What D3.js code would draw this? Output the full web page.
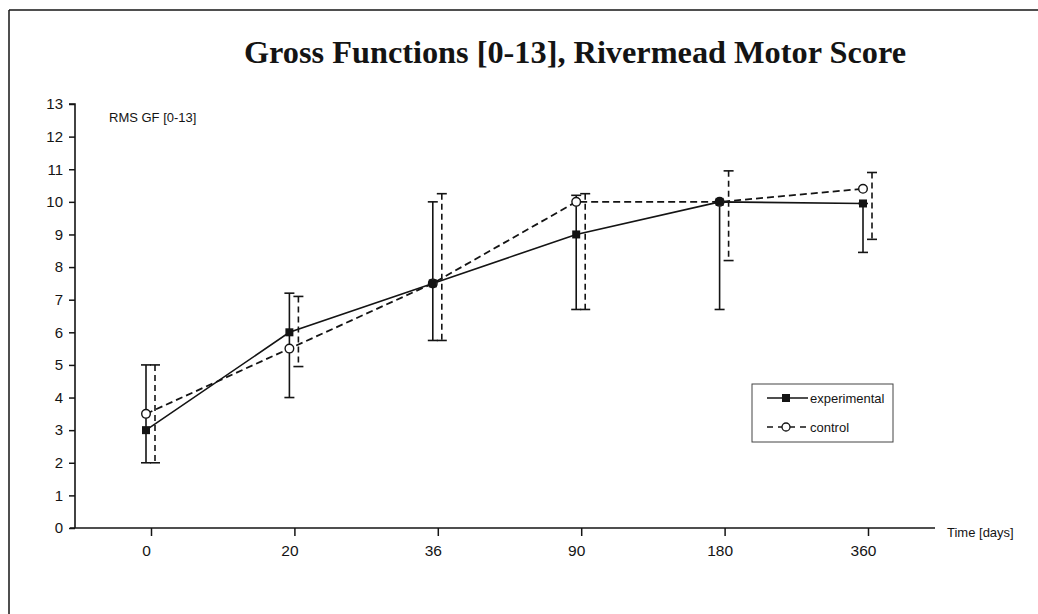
<!DOCTYPE html>
<html>
<head>
<meta charset="utf-8">
<script src="https://cdn.jsdelivr.net/npm/d3@7"></script>
<style>
  body { margin: 0; background: #fff; }
  svg { display: block; }
</style>
</head>
<body>
<div id="chart"></div>
<script>
// values
const days = ["0", "20", "36", "90", "180", "360"];
const expMean = [3, 6, 7.5, 9, 10, 9.95];
const expLow = [2, 4, 5.75, 6.7, 6.7, 8.45];
const expHigh = [5, 7.2, 10, 10.2, 10, 9.95];
const ctlMean = [3.5, 5.5, 7.5, 10, 10, 10.4];
const ctlLow = [2, 4.95, 5.75, 6.7, 8.2, 8.85];
const ctlHigh = [5, 7.1, 10.25, 10.25, 10.95, 10.9];
const yTicks = d3.range(0, 14);

const width = 1038, height = 614;
const ink = "#141414";

const svg = d3.select("#chart").append("svg")
    .attr("width", width)
    .attr("height", height);

// frame (only top + left edge visible in the scan)
svg.append("line").attr("x1", 9).attr("x2", width).attr("y1", 10).attr("y2", 10)
    .attr("stroke", ink).attr("stroke-width", 1.5);
svg.append("line").attr("x1", 9).attr("x2", 9).attr("y1", 10).attr("y2", height)
    .attr("stroke", ink).attr("stroke-width", 1.5);

// title
svg.append("text")
    .attr("x", 575).attr("y", 63)
    .attr("text-anchor", "middle")
    .style("font-family", "'Liberation Serif', 'Times New Roman', serif")
    .style("font-weight", "bold")
    .style("font-size", "32.3px")
    .attr("fill", ink)
    .text("Gross Functions [0-13], Rivermead Motor Score");

// scales
const x = d3.scalePoint().domain(days).range([146, 863]);
const y = d3.scaleLinear().domain([0, 13]).range([528, 104]);
const ctlShift = 9;

const sans = "'Liberation Sans', Arial, sans-serif";

// y axis
const yAxis = svg.append("g")
    .attr("transform", "translate(75,0)")
    .call(d3.axisLeft(y).tickValues(yTicks).tickSize(6).tickPadding(6).tickFormat(d3.format("d")));
yAxis.select(".domain").attr("stroke", ink).attr("stroke-width", 1.6).attr("d", `M-6,${y(13)}H0V${y(0)}`);
yAxis.selectAll(".tick line").attr("stroke", ink).attr("stroke-width", 1.5);
yAxis.selectAll(".tick text")
    .style("font-family", sans).style("font-size", "15px").attr("fill", ink);

// x axis
const xAxis = svg.append("g")
    .attr("transform", `translate(0,${y(0)})`)
    .call(d3.axisBottom(x).tickSize(8).tickPadding(0));
xAxis.select(".domain").attr("stroke", ink).attr("stroke-width", 1.6).attr("d", "M70,0H935");
xAxis.selectAll(".tick line").attr("stroke", ink).attr("stroke-width", 1.5)
    .attr("x1", 5).attr("x2", 5);
xAxis.selectAll(".tick text")
    .attr("y", 28).attr("dy", 0)
    .style("font-family", sans).style("font-size", "15.5px").attr("fill", ink);

svg.append("text")
    .attr("x", 947).attr("y", 537)
    .style("font-family", sans).style("font-size", "13px")
    .attr("fill", ink)
    .text("Time [days]");

svg.append("text")
    .attr("x", 109).attr("y", 122)
    .style("font-family", sans).style("font-size", "13px")
    .attr("fill", ink)
    .text("RMS GF [0-13]");

// series tables
const expData = days.map((d, i) => ({day: d, mean: expMean[i], lo: expLow[i], hi: expHigh[i]}));
const ctlData = days.map((d, i) => ({day: d, mean: ctlMean[i], lo: ctlLow[i], hi: ctlHigh[i]}));

function errorBars(data, shift, dash) {
  const g = svg.append("g").attr("stroke", ink).attr("stroke-width", 1.6).attr("fill", "none");
  g.selectAll("path")
      .data(data)
      .enter()
      .append("path")
      .attr("stroke-dasharray", dash)
      .attr("d", d => `M${x(d.day) + shift},${y(d.hi)}V${y(d.lo)}`);
  // caps
  g.selectAll("line.cap")
      .data(data.flatMap(d => [{day: d.day, v: d.hi}, {day: d.day, v: d.lo}]))
      .enter()
      .append("line")
      .attr("class", "cap")
      .attr("x1", d => x(d.day) + shift - 5)
      .attr("x2", d => x(d.day) + shift + 5)
      .attr("y1", d => y(d.v))
      .attr("y2", d => y(d.v));
}

errorBars(expData, 0, null);
errorBars(ctlData, ctlShift, "6,4");

const line = d3.line().x(d => x(d.day)).y(d => y(d.mean));

svg.append("path")
    .datum(ctlData)
    .attr("d", line)
    .attr("fill", "none")
    .attr("stroke", ink)
    .attr("stroke-width", 1.8)
    .attr("stroke-dasharray", "7,4");

svg.append("path")
    .datum(expData)
    .attr("d", line)
    .attr("fill", "none")
    .attr("stroke", ink)
    .attr("stroke-width", 1.6);

// control markers: open circles
svg.selectAll("circle.ctl")
    .data(ctlData)
    .enter()
    .append("circle")
    .attr("class", "ctl")
    .attr("cx", d => x(d.day))
    .attr("cy", d => y(d.mean))
    .attr("r", 4.3)
    .attr("fill", "#fff")
    .attr("stroke", ink)
    .attr("stroke-width", 1.4);

// experimental markers: filled squares
svg.selectAll("rect.exp")
    .data(expData)
    .enter()
    .append("rect")
    .attr("class", "exp")
    .attr("x", d => x(d.day) - 4)
    .attr("y", d => y(d.mean) - 4)
    .attr("width", 8)
    .attr("height", 8)
    .attr("fill", ink);

// legend
const legend = svg.append("g");
legend.append("rect")
    .attr("x", 752).attr("y", 384)
    .attr("width", 141).attr("height", 58)
    .attr("fill", "#fff")
    .attr("stroke", "#444")
    .attr("stroke-width", 1);

legend.append("line")
    .attr("x1", 767).attr("x2", 808).attr("y1", 398).attr("y2", 398)
    .attr("stroke", ink).attr("stroke-width", 1.5);
legend.append("rect")
    .attr("x", 782).attr("y", 394).attr("width", 8).attr("height", 8)
    .attr("fill", ink);
legend.append("text")
    .attr("x", 810).attr("y", 402.5)
    .style("font-family", sans).style("font-size", "13px")
    .attr("fill", ink)
    .text("experimental");

legend.append("line")
    .attr("x1", 767).attr("x2", 808).attr("y1", 427).attr("y2", 427)
    .attr("stroke", ink).attr("stroke-width", 1.5)
    .attr("stroke-dasharray", "6,5");
legend.append("circle")
    .attr("cx", 786).attr("cy", 427).attr("r", 4)
    .attr("fill", "#fff").attr("stroke", ink).attr("stroke-width", 1.3);
legend.append("text")
    .attr("x", 810).attr("y", 431.5)
    .style("font-family", sans).style("font-size", "13px")
    .attr("fill", ink)
    .text("control");
</script>
</body>
</html>
